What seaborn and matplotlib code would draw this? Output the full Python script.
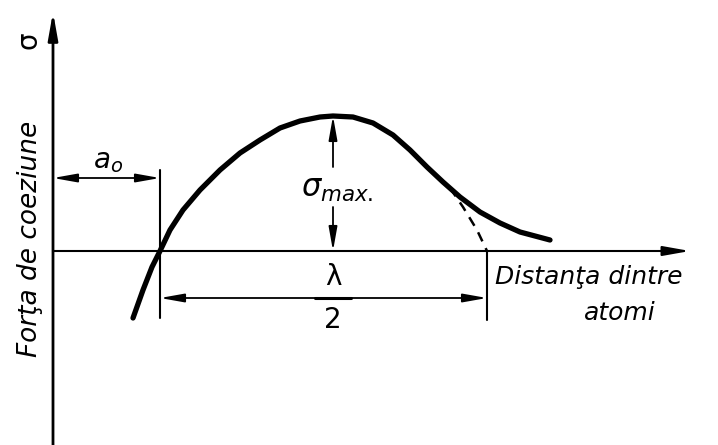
import matplotlib
matplotlib.use("Agg")
import matplotlib.pyplot as plt
import seaborn as sns
import pandas as pd

# Cohesion force vs. interatomic distance (drawing units, origin at axis crossing)
curve_x = [80, 90, 99, 107, 117, 130, 147, 167, 187, 207, 227, 247, 267, 280,
           300, 320, 340, 357, 374, 390, 407, 427, 447, 467, 497]
curve_y = [-67, -39, -16, 0, 21, 41, 61, 81, 98, 111, 123, 130, 134, 135,
           134, 128, 116, 101, 84, 69, 54, 39, 28, 19, 11]
# Sinusoidal approximation continuing down to the axis
approx_x = [397, 410, 424, 434]
approx_y = [63, 44, 21, 0]

a0 = 107          # equilibrium spacing
half_lambda_end = 434
sigma_max_x = 280
sigma_max = 135

ylabel_text = "Forţa de coeziune"
xlabel_lines = ["Distanţa dintre", "atomi"]

sns.set_style("white")
plt.rcParams["font.family"] = ["DejaVu Sans"]
plt.rcParams["text.color"] = "black"

fig = plt.figure(figsize=(7.18, 4.45), dpi=100)
ax = fig.add_axes([0, 0, 1, 1])
ax.set_xlim(-53, 665)
ax.set_ylim(-194, 251)
ax.axis("off")

curve = pd.DataFrame({"x": curve_x, "y": curve_y})
approx = pd.DataFrame({"x": approx_x, "y": approx_y})
sns.lineplot(data=curve, x="x", y="y", ax=ax, color="black", lw=3.8,
             sort=False, solid_capstyle="round", solid_joinstyle="round")
sns.lineplot(data=approx, x="x", y="y", ax=ax, color="black", lw=1.8,
             sort=False, linestyle=(0, (4, 3)))

head = "-|>,head_length=0.9,head_width=0.16"
dbl = "<|-|>,head_length=0.9,head_width=0.16"

# axes with arrows
ax.annotate("", xy=(0, 239), xytext=(0, -194),
            arrowprops=dict(arrowstyle=head, color="black", lw=2, shrinkA=0, shrinkB=0,
                            mutation_scale=18))
ax.annotate("", xy=(637, 0), xytext=(0, 0),
            arrowprops=dict(arrowstyle=head, color="black", lw=1.5, shrinkA=0, shrinkB=0,
                            mutation_scale=18))

# a0 dimension
ax.plot([a0, a0], [81, -67], color="black", lw=1.5)
ax.annotate("", xy=(a0, 73), xytext=(0, 73),
            arrowprops=dict(arrowstyle=dbl, color="black", lw=1.3, shrinkA=0, shrinkB=0,
                            mutation_scale=16))
ax.text(55, 90, r"$a_o$", fontsize=20, ha="center", va="center")

# lambda/2 dimension
ax.plot([half_lambda_end, half_lambda_end], [0, -69], color="black", lw=1.5)
ax.annotate("", xy=(half_lambda_end, -47), xytext=(a0, -47),
            arrowprops=dict(arrowstyle=dbl, color="black", lw=1.3, shrinkA=0, shrinkB=0,
                            mutation_scale=16))
ax.plot([sigma_max_x - 18, sigma_max_x + 18], [-47, -47], color="black", lw=2.2)
ax.text(sigma_max_x, -26, "λ", fontsize=20, ha="center", va="center")
ax.text(sigma_max_x, -69, "2", fontsize=20, ha="center", va="center")

# sigma max dimension
ax.annotate("", xy=(sigma_max_x, sigma_max), xytext=(sigma_max_x, 84),
            arrowprops=dict(arrowstyle=head, color="black", lw=1.3, shrinkA=0, shrinkB=0,
                            mutation_scale=16))
ax.annotate("", xy=(sigma_max_x, 0), xytext=(sigma_max_x, 44),
            arrowprops=dict(arrowstyle=head, color="black", lw=1.3, shrinkA=0, shrinkB=0,
                            mutation_scale=16))
ax.text(sigma_max_x + 4, 62, r"$\mathit{\sigma}_{\mathit{max.}}$", fontsize=22,
        ha="center", va="center")

# axis labels
ax.text(-23, 12, ylabel_text, fontsize=19, style="italic", rotation=90,
        ha="center", va="center")
ax.text(-25, 211, "σ", fontsize=20, rotation=90, ha="center", va="center")
ax.text(442, -26, xlabel_lines[0], fontsize=18, style="italic", ha="left", va="center")
ax.text(567, -62, xlabel_lines[1], fontsize=18, style="italic", ha="center", va="center")

fig.savefig("out.png", dpi=100, facecolor="white")
